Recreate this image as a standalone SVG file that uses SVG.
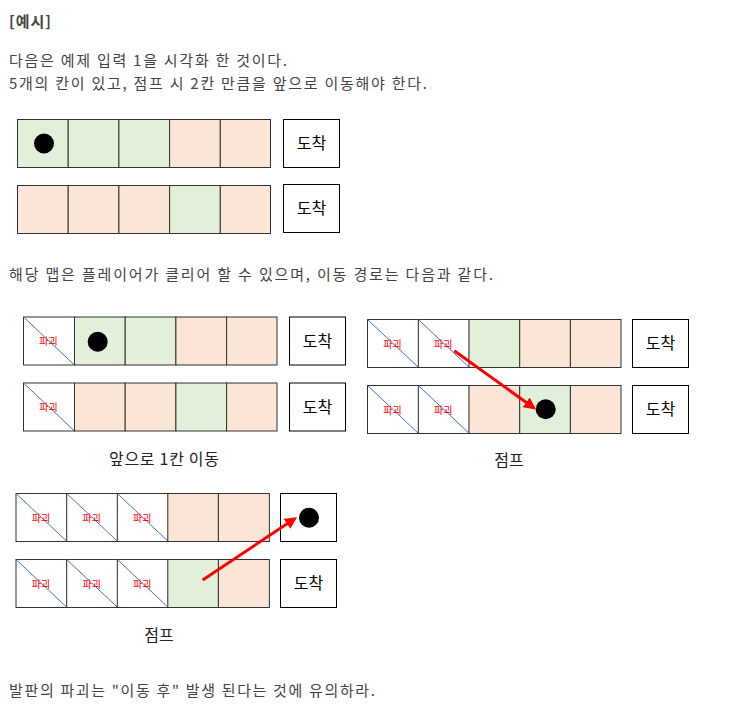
<svg xmlns="http://www.w3.org/2000/svg" width="745" height="709" viewBox="0 0 745 709">
<style>
text{font-family:"Noto Sans CJK KR","Noto Sans",sans-serif}
.t{font-size:15px;fill:#444}
.h{font-size:15px;font-weight:bold;fill:#444}
.g{fill:#e2efd9;stroke:#333;stroke-width:1}
.p{fill:#fbe5d6;stroke:#333;stroke-width:1}
.w{fill:#fff;stroke:#333;stroke-width:1}
.d{stroke:#4472c4;stroke-width:1}
.k{font-size:10px;fill:#f00;text-anchor:middle}
.goal{fill:#fff;stroke:#000;stroke-width:1}
.gl{font-size:16px;fill:#000;text-anchor:middle}
.cap{font-size:16px;fill:#222;text-anchor:middle}
.ball{fill:#000}
.arr{stroke:#f00;stroke-width:3;fill:none;marker-end:url(#ah)}
</style>
<defs>
<marker id="ah" viewBox="0 0 10 10" refX="8" refY="5" markerWidth="4" markerHeight="4" orient="auto" markerUnits="strokeWidth"><path d="M0,0 L10,5 L0,10 z" fill="#f00"/></marker>
<g id="brk"><rect class="w" x="0" y="0" width="51" height="48"/><line class="d" x1="0" y1="0" x2="51" y2="48"/><text class="k" x="25" y="28">파괴</text></g>
</defs>
<rect width="745" height="709" fill="#fff"/>
<text class="h" x="9" y="27" textLength="42" lengthAdjust="spacing">[예시]</text>
<text class="t" x="9" y="66" textLength="278" lengthAdjust="spacing">다음은 예제 입력 1을 시각화 한 것이다.</text>
<text class="t" x="9" y="89" textLength="418" lengthAdjust="spacing">5개의 칸이 있고, 점프 시 2칸 만큼을 앞으로 이동해야 한다.</text>

<g id="ex1">
<g id="ex1-row1">
<rect class="g" x="17.5" y="119.5" width="50.7" height="48"/>
<rect class="g" x="68.2" y="119.5" width="50.7" height="48"/>
<rect class="g" x="118.9" y="119.5" width="50.7" height="48"/>
<rect class="p" x="169.6" y="119.5" width="50.7" height="48"/>
<rect class="p" x="220.3" y="119.5" width="50.2" height="48"/>
<circle class="ball" cx="44" cy="143.5" r="10"/>
</g>
<g id="ex1-goal1"><rect class="goal" x="283.5" y="119.5" width="56" height="48"/><text class="gl" x="311.5" y="149">도착</text></g>
<g id="ex1-row2">
<rect class="p" x="17.5" y="185.5" width="50.7" height="48"/>
<rect class="p" x="68.2" y="185.5" width="50.7" height="48"/>
<rect class="p" x="118.9" y="185.5" width="50.7" height="48"/>
<rect class="g" x="169.6" y="185.5" width="50.7" height="48"/>
<rect class="p" x="220.3" y="185.5" width="50.2" height="48"/>
</g>
<g id="ex1-goal2"><rect class="goal" x="283.5" y="184.5" width="56" height="48"/><text class="gl" x="311.5" y="214">도착</text></g>
</g>

<text class="t" x="9" y="280" textLength="484" lengthAdjust="spacing">해당 맵은 플레이어가 클리어 할 수 있으며, 이동 경로는 다음과 같다.</text>

<g id="step1">
<g id="s1-row1">
<use href="#brk" x="23.5" y="317"/>
<rect class="g" x="74.5" y="317" width="50.7" height="48"/>
<rect class="g" x="125.2" y="317" width="50.7" height="48"/>
<rect class="p" x="175.9" y="317" width="50.7" height="48"/>
<rect class="p" x="226.6" y="317" width="50.4" height="48"/>
<circle class="ball" cx="97.7" cy="341.7" r="10"/>
</g>
<g id="s1-goal1"><rect class="goal" x="289.5" y="317" width="56" height="48"/><text class="gl" x="317.5" y="347">도착</text></g>
<g id="s1-row2">
<use href="#brk" x="23.5" y="383"/>
<rect class="p" x="74.5" y="383" width="50.7" height="48"/>
<rect class="p" x="125.2" y="383" width="50.7" height="48"/>
<rect class="g" x="175.9" y="383" width="50.7" height="48"/>
<rect class="p" x="226.6" y="383" width="50.4" height="48"/>
</g>
<g id="s1-goal2"><rect class="goal" x="289.5" y="383" width="56" height="48"/><text class="gl" x="317.5" y="413">도착</text></g>
<text class="cap" x="164" y="465" textLength="110" lengthAdjust="spacing">앞으로 1칸 이동</text>
</g>

<g id="step2">
<g id="s2-row1">
<use href="#brk" x="367.5" y="319.5"/>
<use href="#brk" x="418.3" y="319.5"/>
<rect class="g" x="469" y="319.5" width="50.7" height="48"/>
<rect class="p" x="519.7" y="319.5" width="50.7" height="48"/>
<rect class="p" x="570.4" y="319.5" width="50.6" height="48"/>
</g>
<g id="s2-goal1"><rect class="goal" x="632.5" y="319.5" width="56" height="48"/><text class="gl" x="660.5" y="349">도착</text></g>
<g id="s2-row2">
<use href="#brk" x="367.5" y="385.5"/>
<use href="#brk" x="418.3" y="385.5"/>
<rect class="p" x="469" y="385.5" width="50.7" height="48"/>
<rect class="g" x="519.7" y="385.5" width="50.7" height="48"/>
<rect class="p" x="570.4" y="385.5" width="50.6" height="48"/>
<circle class="ball" cx="545.7" cy="409.3" r="10"/>
</g>
<g id="s2-goal2"><rect class="goal" x="632.5" y="385.5" width="56" height="48"/><text class="gl" x="660.5" y="415">도착</text></g>
<text class="cap" x="509" y="466">점프</text>
</g>

<g id="step3">
<g id="s3-row1">
<use href="#brk" x="16" y="493.5"/>
<use href="#brk" x="66.7" y="493.5"/>
<use href="#brk" x="117.3" y="493.5"/>
<rect class="p" x="167.8" y="493.5" width="50.6" height="48"/>
<rect class="p" x="218.4" y="493.5" width="51" height="48"/>
</g>
<g id="s3-goal1"><rect class="goal" x="280.5" y="493.5" width="56" height="48"/><circle class="ball" cx="309" cy="517.7" r="10"/></g>
<g id="s3-row2">
<use href="#brk" x="16" y="559.5"/>
<use href="#brk" x="66.7" y="559.5"/>
<use href="#brk" x="117.3" y="559.5"/>
<rect class="g" x="167.8" y="559.5" width="50.6" height="48"/>
<rect class="p" x="218.4" y="559.5" width="51" height="48"/>
</g>
<g id="s3-goal2"><rect class="goal" x="280.5" y="559.5" width="56" height="48"/><text class="gl" x="308.5" y="589">도착</text></g>
<text class="cap" x="159" y="641">점프</text>
</g>

<g id="connectors">
<line class="arr" x1="454.3" y1="350.7" x2="534" y2="408"/>
<line class="arr" x1="202.7" y1="580" x2="295" y2="518.5"/>
</g>

<text class="t" x="9" y="696" textLength="366" lengthAdjust="spacing">발판의 파괴는 "이동 후" 발생 된다는 것에 유의하라.</text>
</svg>
